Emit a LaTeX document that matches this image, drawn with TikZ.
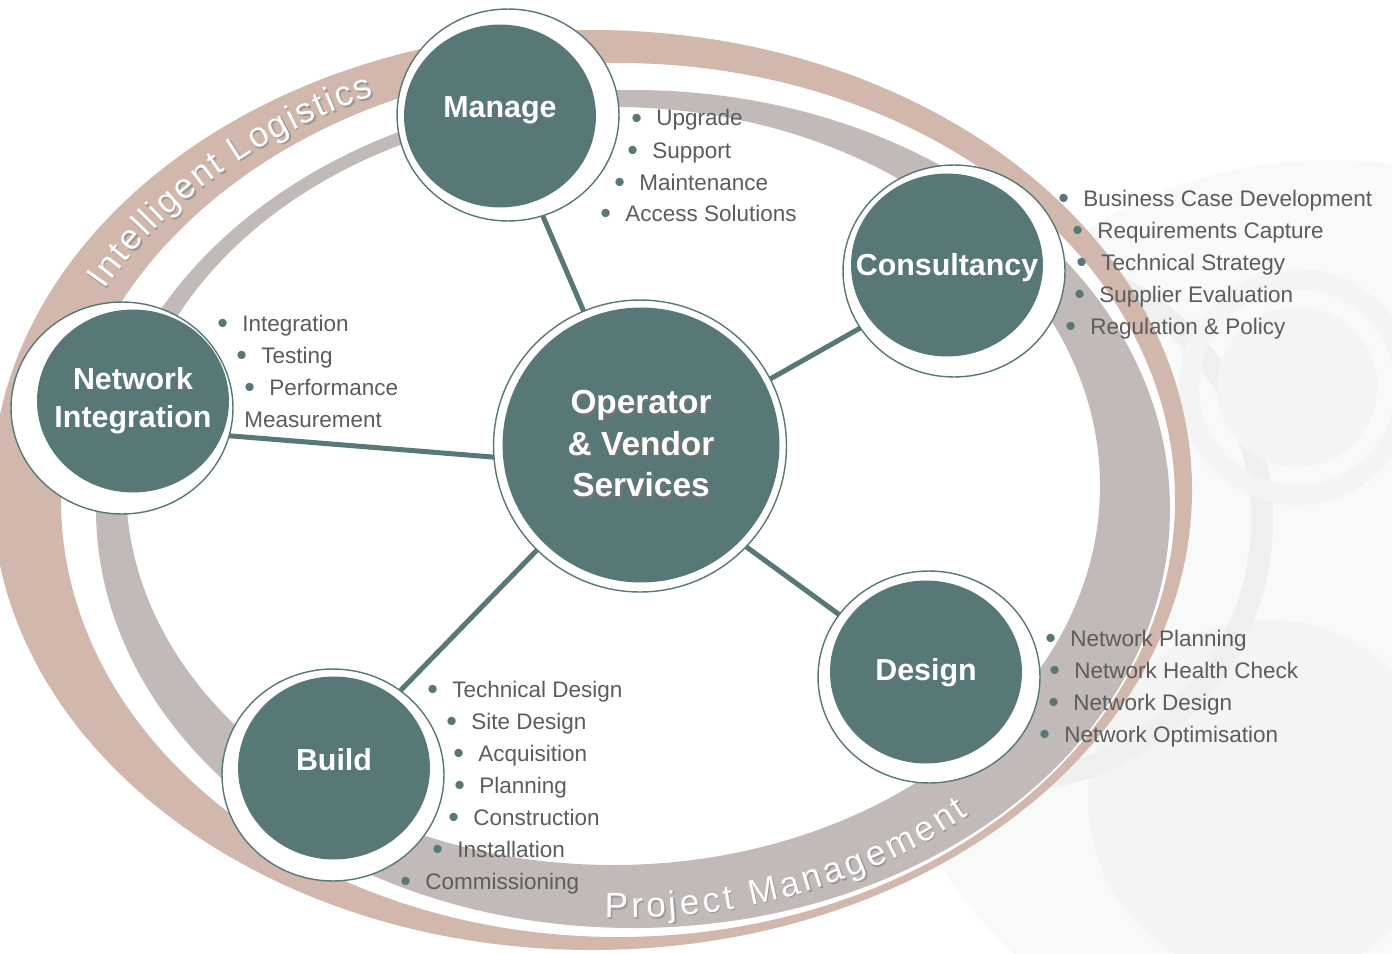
\documentclass[tikz,border=0pt]{standalone}
\usepackage{fontspec}
\setmainfont{Liberation Sans}
\usepackage{xcolor}
\usepackage{graphicx}
\usepackage{tikz}
\usetikzlibrary{shapes.geometric,decorations.text}

\definecolor{hubteal}{RGB}{88,120,120}
\definecolor{tanband}{RGB}{210,184,172}
\definecolor{greyband}{RGB}{193,186,185}
\definecolor{listgrey}{RGB}{92,92,92}
\definecolor{faintA}{RGB}{248,249,249}
\definecolor{faintB}{RGB}{243,245,245}
\definecolor{faintC}{RGB}{238,239,239}

\pgfdeclarelayer{back}
\pgfdeclarelayer{links}
\pgfsetlayers{back,links,main}

\newcommand{\listfont}{\fontsize{12.8}{15}\selectfont}
\newcommand{\titlefont}{\fontsize{17.3}{21.6}\selectfont\bfseries}
\newcommand{\hubfont}{\fontsize{19}{23.6}\selectfont\bfseries}
\newcommand{\bandfont}{\fontsize{20}{20}\selectfont}
\newcommand{\hl}[1]{\makebox[0pt]{#1}}
\newcommand{\tl}[2]{\makebox[0pt]{\raisebox{#1}[0pt][0pt]{#2}}}
\newcommand{\shadowed}[1]{\makebox[0pt]{\makebox[0pt][l]{\hspace{1.3pt}\raisebox{-1.3pt}{\textcolor{black!55}{#1}}}#1}}
\newcommand{\bul}{\makebox[0pt][r]{\textcolor{hubteal}{\raisebox{-1.2pt}{\scalebox{1.35}{\textbullet}}}\hspace{8.2pt}}}

\begin{document}
\begin{tikzpicture}[x=0.02cm, y=0.02cm,
		ring/.style={
			ellipse, draw=hubteal, line width=0.8pt, fill=white, inner sep=0pt,
			minimum width=4.44cm, minimum height=4.24cm
		},
		hub/.style={
			ellipse, fill=hubteal, inner sep=0pt, text=white, font=\titlefont, align=center,
			minimum width=3.84cm, minimum height=3.66cm
		},
		link/.style={draw=hubteal, line width=2.85pt},
		item/.style={anchor=base west, inner sep=0pt, text=listgrey, font=\listfont}
	]
		\useasboundingbox (0,0) rectangle (1392,-953);

		\begin{pgfonlayer}{back}
			\fill[faintA] (1330,-620) circle [radius=460];
			\fill[faintB] (1268,-800) circle [radius=180];
			\draw[faintC, line width=0.44cm] (1000,-520) circle [radius=262];
			\draw[faintB, line width=0.4cm] (1297,-387) circle [radius=108];
			\fill[faintB] (1297,-387) circle [radius=80];
			\fill[white] (592,-490) ellipse [x radius=600, y radius=460];
			\fill[tanband, even odd rule] (592,-490) ellipse [x radius=600, y radius=460]
				(618,-500) ellipse [x radius=557, y radius=437];
			\fill[greyband, even odd rule] (633,-509) ellipse [x radius=537, y radius=419]
				(613,-486) ellipse [x radius=487, y radius=379];
		\end{pgfonlayer}

		\foreach \dx/\dy/\c in {1.5/-1.5/black!40,0/0/white} {
				\path[decorate, decoration={text along path, text align={fit to path},
						text={|\bandfont\color{\c}|Intelligent Logistics}}]
					(605+\dx,-495+\dy) ++(152:567 and 437)
					arc [start angle=152, end angle=114, x radius=567, y radius=437];
				\path[decorate, decoration={text along path, text align={fit to path},
						text={|\bandfont\color{\c}|Project Management}}]
					(623+\dx,-497+\dy) ++(268:527 and 421)
					arc [start angle=268, end angle=311, x radius=527, y radius=421];
			}

		\node[ring] (manage-ring) at (508,-115) {};
		\node[hub] (manage) at (500,-116) {\tl{-1.1pt}{Manage}};
		\node[ring] (consultancy-ring) at (954,-271) {};
		\node[hub] (consultancy) at (947,-265) {\tl{-5.7pt}{Consultancy}};
		\node[ring] (integration-ring) at (122,-408) {};
		\node[hub] (integration) at (133,-401) {\hl{Network}\\\hl{Integration}};
		\node[ring] (design-ring) at (929,-677) {};
		\node[hub] (design) at (926,-672) {\tl{-4.6pt}{Design}};
		\node[ring] (build-ring) at (333,-775) {};
		\node[hub] (build) at (334,-768) {\tl{-1.7pt}{Build}};
		\node[ring, minimum width=5.86cm, minimum height=5.84cm] (services-ring) at (640,-446) {};
		\node[hub, font=\hubfont, minimum width=5.54cm, minimum height=5.5cm] (services) at (641,-445)
			{\shadowed{Operator}\\\shadowed{\& Vendor}\\\shadowed{Services}};

		\begin{pgfonlayer}{links}
			\foreach \n/\a/\b in {manage/0/0,consultancy/-7/-14,integration/-24/-27,design/-25/-6,build/2/9}
				\draw[link] ([yshift=\a*0.02cm]services.center) -- ([yshift=\b*0.02cm]\n.center);
		\end{pgfonlayer}

		\foreach \x/\y/\t [count=\i] in {656/126/Upgrade,652/158/Support,639/190/Maintenance,625/221/Access Solutions}
			\node[item] (manage-\i) at (\x,-\y) {\bul\t};
		\foreach \x/\y/\t [count=\i] in {1083/206/Business Case Development,1097/238/Requirements Capture,
				1101/270/Technical Strategy,1099/302/Supplier Evaluation,1090/334/Regulation \& Policy}
			\node[item] (consultancy-\i) at (\x,-\y) {\bul\t};
		\foreach \x/\y/\t [count=\i] in {242/331/Integration,261/363/Testing,269/395/Performance}
			\node[item] (integration-\i) at (\x,-\y) {\bul\t};
		\node[item] (integration-4) at (244,-427) {Measurement};
		\foreach \x/\y/\t [count=\i] in {1070/646/Network Planning,1074/678/Network Health Check,
				1073/710/Network Design,1064/742/Network Optimisation}
			\node[item] (design-\i) at (\x,-\y) {\bul\t};
		\foreach \x/\y/\t [count=\i] in {452/697/Technical Design,471/729/Site Design,478/761/Acquisition,
				479/793/Planning,473/825/Construction,457/857/Installation,425/889/Commissioning}
			\node[item] (build-\i) at (\x,-\y) {\bul\t};
	\end{tikzpicture}
\end{document}
